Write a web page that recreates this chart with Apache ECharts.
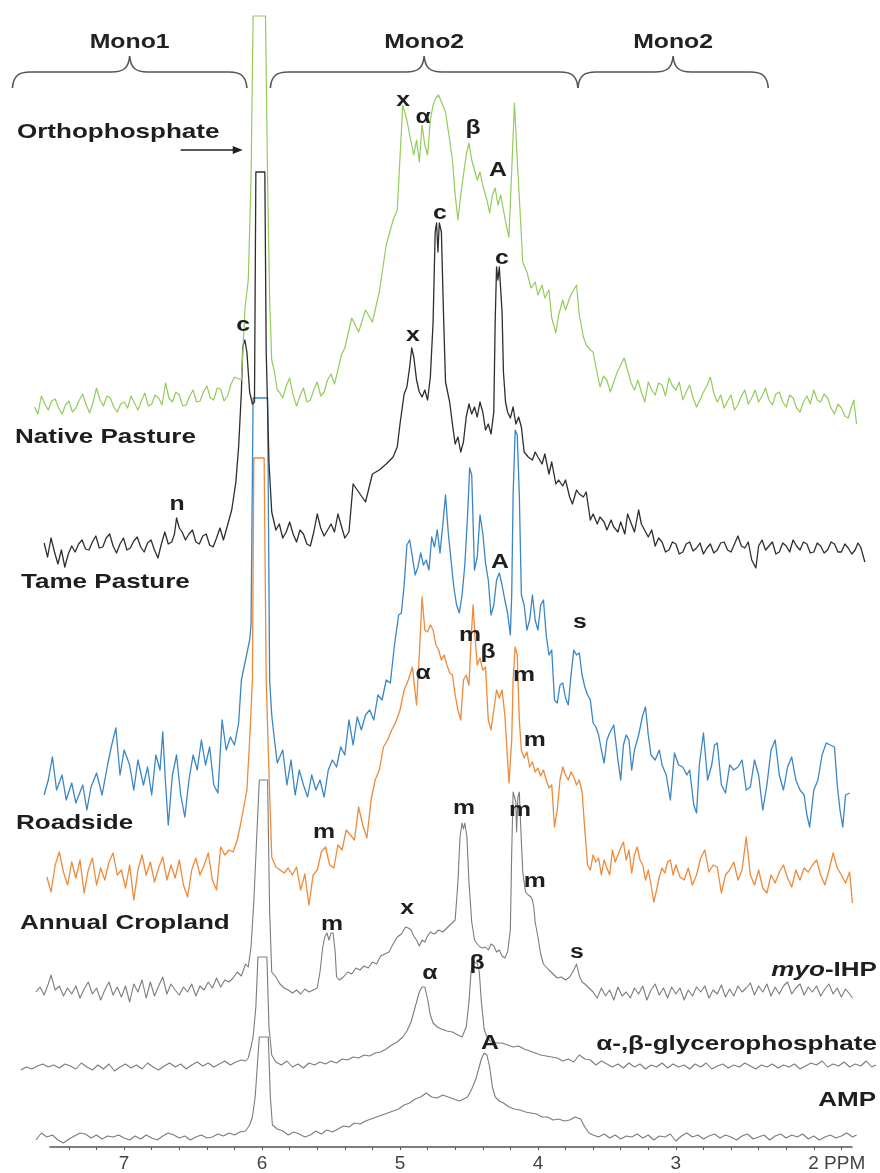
<!DOCTYPE html>
<html>
<head>
<meta charset="utf-8">
<title>31P NMR spectra</title>
<script src="https://cdn.jsdelivr.net/npm/echarts@6/dist/echarts.min.js"></script>
<style>
  html, body { margin: 0; padding: 0; background: #ffffff; }
  #chart { width: 880px; height: 1173px; }
</style>
</head>
<body>
<div id="chart"></div>
<script>
// Chemical shift (ppm) and intensity pairs for each spectrum; intensity is relative to its own baseline.
const nativePasture = [
  [7.650,3],[7.625,-4],[7.600,14],[7.575,6],[7.550,0],[7.525,9],[7.500,11],[7.475,2],[7.450,-4],[7.425,5],
  [7.400,9],[7.375,-2],[7.350,2],[7.325,10],[7.300,16],[7.275,5],[7.250,-3],[7.225,8],[7.200,22],[7.175,10],
  [7.150,4],[7.125,14],[7.100,12],[7.075,3],[7.050,-2],[7.025,6],[7.000,8],[6.975,2],[6.950,14],[6.925,7],
  [6.900,0],[6.875,9],[6.850,17],[6.825,4],[6.800,6],[6.775,15],[6.750,12],[6.725,5],[6.700,27],[6.675,12],
  [6.650,8],[6.625,18],[6.600,15],[6.575,4],[6.550,5],[6.525,14],[6.500,20],[6.475,8],[6.450,9],[6.425,18],
  [6.400,24],[6.375,12],[6.350,10],[6.325,22],[6.300,21],[6.275,9],[6.250,14],[6.225,26],[6.200,33],
  [6.15,30],[6.123,103],[6.10,130],[6.08,230],[6.065,394],[5.975,394],[5.96,230],[5.945,110],[5.93,50],[5.91,38],
  [5.89,20],[5.875,18],[5.850,12],[5.825,24],[5.800,32],[5.775,15],[5.750,4],[5.725,14],[5.700,22],[5.675,8],
  [5.650,10],[5.625,20],[5.600,28],[5.575,14],[5.550,18],[5.525,30],[5.500,36],[5.475,26],[5.450,40],[5.425,55],
  [5.40,62],[5.35,92],[5.30,78],[5.25,100],[5.20,88],[5.15,118],[5.10,165],[5.05,190],[5.02,200],[4.98,305],
  [4.95,290],[4.93,275],[4.90,255],[4.88,270],[4.86,248],[4.84,285],[4.82,265],[4.80,255],[4.78,290],[4.76,305],
  [4.74,312],[4.72,315],[4.70,308],[4.67,298],[4.64,270],[4.62,250],[4.60,215],[4.58,190],[4.56,215],[4.54,235],
  [4.52,255],[4.50,267],[4.48,250],[4.46,240],[4.44,230],[4.42,238],[4.40,225],[4.37,210],[4.35,197],[4.33,215],
  [4.31,222],[4.29,205],[4.27,215],[4.25,200],[4.23,185],[4.21,173],[4.19,240],[4.17,307],[4.15,250],[4.13,200],
  [4.11,148],[4.08,138],[4.05,122],[4.02,128],[4.00,115],[3.97,125],[3.95,112],[3.92,120],[3.90,92],[3.87,77],
  [3.85,95],[3.82,110],[3.80,100],[3.77,112],[3.75,118],[3.72,125],[3.70,95],[3.67,73],[3.65,65],[3.62,60],
  [3.600,58],[3.575,40],[3.550,23],[3.525,34],[3.500,30],[3.475,18],[3.450,28],[3.425,38],[3.400,45],[3.375,52],
  [3.350,40],[3.325,27],[3.300,20],[3.275,30],[3.250,18],[3.225,8],[3.200,28],[3.175,20],[3.150,15],[3.125,27],
  [3.100,25],[3.075,14],[3.050,32],[3.025,24],[3.000,20],[2.975,28],[2.950,10],[2.925,18],[2.900,25],[2.875,12],
  [2.850,3],[2.825,10],[2.800,18],[2.775,24],[2.750,33],[2.725,17],[2.700,8],[2.675,15],[2.650,2],[2.625,9],
  [2.600,15],[2.575,0],[2.550,5],[2.525,14],[2.500,20],[2.475,6],[2.450,12],[2.425,20],[2.400,8],[2.375,14],
  [2.350,22],[2.325,10],[2.300,5],[2.275,16],[2.250,18],[2.225,8],[2.200,3],[2.175,15],[2.150,12],[2.125,2],
  [2.100,-2],[2.075,8],[2.050,14],[2.025,6],[2.000,20],[1.975,10],[1.950,8],[1.925,16],[1.900,12],[1.875,2],
  [1.850,-4],[1.825,6],[1.800,2],[1.775,-6],[1.750,-8],[1.725,4],[1.710,10],[1.690,-14]
];

const tamePasture = [
  [7.580,9],[7.555,-5],[7.530,14],[7.505,0],[7.480,-12],[7.455,2],[7.430,-15],[7.405,-2],[7.380,6],[7.355,0],
  [7.330,8],[7.305,12],[7.280,3],[7.255,2],[7.230,10],[7.205,16],[7.180,4],[7.155,5],[7.130,14],[7.105,18],
  [7.080,6],[7.055,-1],[7.030,8],[7.005,14],[6.980,2],[6.955,4],[6.930,11],[6.905,15],[6.880,5],[6.855,0],
  [6.830,9],[6.805,12],[6.780,2],[6.755,-6],[6.730,8],[6.705,20],[6.680,8],[6.655,10],[6.635,18],[6.620,34],
  [6.600,24],[6.580,20],[6.555,12],[6.530,18],[6.505,22],[6.480,10],[6.455,8],[6.430,16],[6.405,18],[6.380,7],
  [6.355,5],[6.330,14],[6.305,24],[6.280,12],[6.260,22],
  [6.22,42],[6.19,70],[6.17,105],[6.15,160],[6.14,205],[6.125,212],[6.11,200],[6.09,160],[6.07,148],
  [6.055,150],[6.045,380],[5.98,380],[5.97,200],[5.95,90],[5.93,40],
  [5.900,22],[5.875,28],[5.850,14],[5.825,20],[5.800,30],[5.775,18],[5.750,10],[5.725,22],[5.700,18],[5.675,8],
  [5.650,6],[5.625,20],[5.600,38],[5.575,24],[5.550,16],[5.525,22],[5.500,28],[5.475,20],[5.450,38],[5.425,26],
  [5.400,14],[5.370,20],[5.34,68],[5.30,60],
  [5.25,50],[5.20,78],[5.15,82],[5.10,88],[5.05,95],[5.02,105],[5.00,128],[4.97,158],[4.95,165],[4.93,185],
  [4.915,204],[4.90,195],[4.88,172],[4.86,160],[4.84,155],[4.82,162],[4.80,152],[4.78,175],[4.76,230],[4.745,320],
  [4.735,329],[4.725,300],[4.715,329],[4.70,320],[4.685,240],[4.67,170],[4.64,150],[4.62,128],[4.60,108],[4.58,115],
  [4.56,100],[4.54,110],[4.52,135],[4.50,148],[4.48,138],[4.46,145],[4.44,135],[4.42,150],[4.40,140],[4.38,122],
  [4.36,128],[4.34,118],[4.32,140],[4.31,230],[4.30,285],[4.29,272],[4.28,285],[4.27,284],[4.26,240],[4.25,180],
  [4.235,150],[4.22,140],[4.20,134],[4.18,145],[4.16,128],[4.14,135],[4.12,125],[4.10,100],[4.07,95],[4.04,92],
  [4.02,100],[4.00,95],[3.97,88],[3.95,98],[3.92,78],[3.90,90],[3.87,68],[3.85,72],[3.82,66],[3.80,72],
  [3.77,55],[3.75,48],[3.72,62],[3.70,58],[3.67,55],[3.65,60],[3.62,32],[3.60,38],[3.57,28],[3.55,35],
  [3.52,30],[3.50,22],[3.47,32],[3.45,25],[3.42,20],[3.40,30],[3.37,18],[3.35,38],[3.30,20],[3.27,42],
  [3.25,28],
  [3.200,15],[3.175,22],[3.150,6],[3.125,14],[3.100,10],[3.075,0],[3.050,2],[3.025,10],[3.000,8],[2.975,-2],
  [2.950,0],[2.925,8],[2.900,10],[2.875,1],[2.850,4],[2.825,9],[2.800,-2],[2.775,4],[2.750,8],[2.725,-1],
  [2.700,2],[2.675,9],[2.650,10],[2.625,2],[2.600,0],[2.575,8],[2.550,16],[2.525,6],[2.500,4],[2.475,10],
  [2.450,-8],[2.420,-16],[2.400,6],[2.375,12],[2.350,2],[2.325,6],[2.300,10],[2.275,-2],[2.250,0],[2.225,9],
  [2.200,6],[2.175,0],[2.150,12],[2.125,6],[2.100,2],[2.075,10],[2.050,8],[2.025,-1],[2.000,0],[1.975,9],
  [1.950,6],[1.925,-1],[1.900,2],[1.875,10],[1.850,8],[1.825,0],[1.800,0],[1.775,8],[1.750,4],[1.725,-2],
  [1.700,2],[1.680,9],[1.660,5],[1.630,-10]
];

const roadside = [
  [7.58,0],[7.55,15],[7.52,38],[7.49,5],[7.45,20],[7.42,-5],[7.38,12],[7.35,-8],[7.30,10],[7.27,-15],
  [7.24,8],[7.20,22],[7.16,0],[7.12,30],[7.09,50],[7.06,67],[7.03,20],[7.00,45],[6.96,30],[6.93,5],
  [6.90,35],[6.86,10],[6.83,28],[6.80,0],[6.77,40],[6.74,25],[6.72,63],[6.70,12],[6.68,-30],[6.65,20],
  [6.62,40],[6.59,0],[6.56,-22],[6.53,15],[6.50,40],[6.47,25],[6.44,55],[6.41,30],[6.38,48],[6.35,10],
  [6.32,2],[6.29,75],[6.26,45],[6.23,58],[6.20,50],[6.17,72],[6.15,115],[6.12,135],[6.09,155],[6.08,170],
  [6.065,397],[5.96,397],[5.945,115],[5.93,80],[5.91,55],[5.89,32],[5.85,45],[5.82,10],[5.79,35],[5.76,0],
  [5.73,25],[5.70,10],[5.67,-2],[5.64,20],[5.61,5],[5.58,15],[5.55,-2],[5.52,25],[5.49,35],[5.46,28],
  [5.43,48],[5.40,40],[5.37,75],[5.34,50],[5.31,78],[5.28,65],[5.25,80],[5.22,85],[5.19,75],[5.16,100],
  [5.13,95],[5.10,115],[5.07,112],[5.04,150],[5.01,180],[4.99,182],[4.97,210],[4.95,250],[4.93,255],[4.91,238],
  [4.89,220],[4.87,228],[4.85,242],[4.83,230],[4.81,235],[4.79,225],[4.77,258],[4.75,248],[4.73,265],[4.71,242],
  [4.69,270],[4.67,300],[4.65,262],[4.63,235],[4.61,208],[4.59,190],[4.57,182],[4.55,200],[4.53,230],[4.51,280],
  [4.495,327],[4.48,320],[4.46,225],[4.44,238],[4.42,280],[4.40,262],[4.38,232],[4.36,215],[4.34,180],[4.32,190],
  [4.30,215],[4.28,222],[4.26,210],[4.24,195],[4.22,182],[4.20,160],[4.19,200],[4.18,300],[4.165,365],[4.15,360],
  [4.135,300],[4.12,200],[4.10,190],[4.08,165],[4.06,175],[4.04,200],[4.02,175],[4.00,165],[3.98,190],[3.96,195],
  [3.94,160],[3.92,140],[3.90,145],[3.88,95],[3.86,92],[3.84,110],[3.82,112],[3.80,97],[3.78,90],[3.76,120],
  [3.74,145],[3.72,140],[3.70,142],[3.68,120],[3.66,108],[3.64,100],[3.62,95],[3.60,72],[3.58,68],[3.56,60],
  [3.54,45],[3.52,32],[3.50,55],[3.48,62],[3.45,70],[3.42,35],[3.40,15],[3.38,50],[3.36,60],[3.34,55],
  [3.32,25],[3.30,45],[3.27,60],[3.24,80],[3.22,88],[3.20,60],[3.18,40],[3.15,35],[3.12,45],[3.10,30],
  [3.07,20],[3.04,-5],[3.01,42],[2.98,30],[2.95,28],[2.92,20],[2.90,25],[2.87,-10],[2.85,-18],[2.83,30],
  [2.80,62],[2.77,15],[2.74,30],[2.72,50],[2.70,52],[2.67,10],[2.64,2],[2.61,30],[2.58,25],[2.55,28],
  [2.52,35],[2.49,5],[2.46,8],[2.43,35],[2.40,20],[2.37,-15],[2.34,10],[2.31,45],[2.28,55],[2.25,20],
  [2.22,5],[2.19,28],[2.16,38],[2.13,15],[2.10,5],[2.07,0],[2.05,-20],[2.03,-32],[2.00,5],[1.97,15],
  [1.94,40],[1.91,52],[1.88,50],[1.85,48],[1.83,10],[1.81,-15],[1.79,-32],[1.77,0],[1.74,2]
];

const annualCropland = [
  [7.56,3],[7.53,-12],[7.50,15],[7.47,28],[7.44,8],[7.41,-5],[7.38,18],[7.35,2],[7.32,20],[7.29,-13],
  [7.26,10],[7.23,22],[7.20,-5],[7.17,12],[7.14,0],[7.11,18],[7.08,27],[7.05,5],[7.02,10],[6.99,-8],
  [6.96,15],[6.93,-20],[6.90,10],[6.87,25],[6.84,5],[6.81,18],[6.78,-2],[6.75,12],[6.72,23],[6.69,0],
  [6.66,15],[6.63,2],[6.60,20],[6.57,-5],[6.54,-17],[6.51,10],[6.48,22],[6.45,5],[6.42,15],[6.39,27],
  [6.36,0],[6.33,-10],[6.30,33],[6.27,25],[6.24,30],[6.21,28],[6.18,40],[6.16,53],[6.13,75],[6.11,90],
  [6.09,140],[6.07,200],[6.06,422],[5.985,422],[5.97,200],[5.955,130],[5.93,23],[5.90,13],[5.87,10],[5.84,7],
  [5.81,12],[5.78,5],[5.75,13],[5.72,-10],[5.69,6],[5.66,-25],[5.63,5],[5.60,10],[5.57,28],[5.54,33],
  [5.51,15],[5.48,12],[5.45,35],[5.42,30],[5.39,50],[5.36,45],[5.33,40],[5.30,73],[5.27,55],[5.24,42],
  [5.21,80],[5.18,100],[5.15,110],[5.12,133],[5.09,140],[5.06,150],[5.03,158],[5.00,170],[4.97,190],[4.94,200],
  [4.91,213],[4.88,175],[4.86,225],[4.84,283],[4.82,250],[4.80,248],[4.78,255],[4.76,250],[4.74,235],[4.72,230],
  [4.70,220],[4.68,225],[4.66,215],[4.64,207],[4.62,205],[4.60,185],[4.58,170],[4.56,160],[4.54,200],[4.52,205],
  [4.50,195],[4.485,240],[4.47,275],[4.455,240],[4.44,215],[4.42,222],[4.40,210],[4.38,213],[4.36,160],[4.34,150],
  [4.32,170],[4.30,190],[4.28,182],[4.26,190],[4.24,165],[4.22,120],[4.21,97],[4.19,140],[4.18,200],[4.165,233],
  [4.15,225],[4.135,160],[4.12,130],[4.10,122],[4.08,128],[4.06,113],[4.04,118],[4.02,108],[4.00,112],[3.98,104],
  [3.96,110],[3.94,100],[3.92,92],[3.90,95],[3.88,53],[3.86,70],[3.84,100],[3.82,113],[3.80,105],[3.78,100],
  [3.76,108],[3.74,103],[3.72,95],[3.70,100],[3.68,88],[3.66,50],[3.64,15],[3.62,10],[3.60,25],[3.58,18],
  [3.56,22],[3.54,5],[3.52,20],[3.50,12],[3.48,5],[3.46,30],[3.44,18],[3.42,25],[3.40,32],[3.38,38],
  [3.36,20],[3.34,30],[3.32,7],[3.30,25],[3.28,33],[3.26,20],[3.24,15],[3.22,0],[3.20,10],[3.18,-5],
  [3.16,-22],[3.14,-10],[3.12,3],[3.10,12],[3.08,7],[3.06,18],[3.04,20],[3.02,5],[3.00,15],[2.97,3],
  [2.94,0],[2.91,12],[2.88,-5],[2.85,5],[2.82,22],[2.79,30],[2.76,8],[2.73,15],[2.70,13],[2.67,-13],
  [2.64,5],[2.61,10],[2.58,18],[2.55,0],[2.52,10],[2.49,43],[2.46,5],[2.43,-5],[2.40,10],[2.37,-8],
  [2.34,-13],[2.31,5],[2.28,-3],[2.25,8],[2.22,15],[2.19,2],[2.16,-7],[2.13,10],[2.10,0],[2.07,12],
  [2.04,8],[2.01,15],[1.98,20],[1.95,5],[1.92,-5],[1.89,10],[1.86,27],[1.83,12],[1.80,5],[1.77,-3],
  [1.74,8],[1.72,-23]
];

const myoIHP = [
  [7.64,0],[7.61,5],[7.58,-3],[7.55,8],[7.53,17],[7.50,2],[7.47,6],[7.44,-4],[7.41,4],[7.38,-2],
  [7.35,6],[7.32,-6],[7.29,3],[7.26,10],[7.23,-2],[7.20,4],[7.17,-8],[7.14,2],[7.11,10],[7.08,-3],
  [7.05,5],[7.02,-5],[6.99,6],[6.96,-10],[6.93,8],[6.90,0],[6.87,12],[6.84,-6],[6.81,10],[6.78,-4],
  [6.75,6],[6.72,15],[6.69,-2],[6.66,8],[6.63,2],[6.60,-3],[6.57,5],[6.54,0],[6.51,8],[6.48,-4],
  [6.45,6],[6.42,2],[6.39,10],[6.36,4],[6.33,14],[6.30,5],[6.27,12],[6.24,10],[6.21,14],[6.18,20],
  [6.15,16],[6.12,28],[6.10,25],[6.08,45],[6.06,90],[6.02,212],[5.96,212],[5.945,80],[5.93,20],[5.90,15],
  [5.87,8],[5.84,4],[5.81,2],[5.78,-1],[5.75,2],[5.72,-2],[5.69,3],[5.66,0],[5.63,2],[5.60,4],
  [5.58,20],[5.56,45],[5.545,55],[5.53,59],[5.515,52],[5.50,59],[5.485,59],[5.47,40],[5.46,15],[5.44,12],
  [5.41,15],[5.38,20],[5.35,18],[5.32,24],[5.29,22],[5.26,26],[5.23,24],[5.20,30],[5.17,28],[5.14,36],
  [5.11,38],[5.08,40],[5.05,48],[5.02,55],[4.99,58],[4.96,65],[4.94,64],[4.92,62],[4.90,56],[4.88,52],
  [4.86,46],[4.84,52],[4.82,50],[4.80,56],[4.78,60],[4.75,58],[4.72,62],[4.69,60],[4.66,64],[4.63,68],
  [4.60,72],[4.58,110],[4.565,155],[4.55,169],[4.54,163],[4.53,169],[4.515,155],[4.50,110],[4.48,70],[4.46,52],
  [4.44,48],[4.42,45],[4.40,44],[4.38,45],[4.36,42],[4.34,48],[4.32,46],[4.30,40],[4.28,42],[4.26,36],
  [4.24,34],[4.22,40],[4.20,62],[4.19,140],[4.18,200],[4.17,202],[4.16,190],[4.155,160],[4.145,195],[4.135,200],
  [4.12,150],[4.11,120],[4.09,100],[4.07,97],[4.05,95],[4.04,92],[4.03,85],[4.02,70],[4.00,55],[3.98,38],
  [3.96,28],[3.94,25],[3.92,22],[3.89,18],[3.86,14],[3.83,15],[3.80,12],[3.77,15],[3.74,22],[3.72,28],
  [3.70,16],[3.68,10],[3.66,8],[3.63,4],[3.60,0],[3.57,-6],[3.54,4],[3.51,-4],[3.48,2],[3.45,-8],
  [3.42,5],[3.39,-4],[3.36,0],[3.33,-6],[3.30,4],[3.27,-2],[3.24,6],[3.21,-8],[3.18,2],[3.15,8],
  [3.12,-3],[3.09,4],[3.06,-6],[3.03,5],[3.00,-2],[2.97,4],[2.94,-8],[2.91,2],[2.88,-4],[2.85,5],
  [2.82,0],[2.79,6],[2.76,-6],[2.73,2],[2.70,-2],[2.67,7],[2.64,-5],[2.61,3],[2.58,-4],[2.55,6],
  [2.52,0],[2.49,4],[2.46,9],[2.43,-3],[2.40,6],[2.37,0],[2.34,8],[2.31,-4],[2.28,5],[2.25,-2],
  [2.22,6],[2.19,10],[2.16,-2],[2.13,4],[2.10,8],[2.07,-3],[2.04,5],[2.01,0],[1.98,6],[1.95,-4],
  [1.92,3],[1.89,8],[1.86,-2],[1.83,4],[1.80,-5],[1.77,3],[1.74,-2],[1.72,-6]
];

const glycerophosphate = [
  [7.75,-3],[7.71,0],[7.67,-2],[7.63,1],[7.59,3],[7.55,0],[7.51,2],[7.47,-1],[7.43,3],[7.39,1],
  [7.35,-2],[7.31,4],[7.27,0],[7.23,-3],[7.19,2],[7.15,-2],[7.11,3],[7.07,-4],[7.03,0],[6.99,3],
  [6.95,-1],[6.91,2],[6.87,-2],[6.83,4],[6.79,0],[6.75,-3],[6.71,1],[6.67,4],[6.63,0],[6.59,3],
  [6.55,-2],[6.51,2],[6.47,5],[6.43,1],[6.39,4],[6.35,0],[6.31,3],[6.27,6],[6.23,2],[6.19,5],
  [6.15,7],[6.12,6],[6.10,9],[6.08,20],[6.065,30],[6.045,60],[6.03,110],[5.965,110],[5.95,40],[5.93,12],
  [5.90,5],[5.86,2],[5.82,6],[5.78,0],[5.74,3],[5.70,-1],[5.66,4],[5.62,2],[5.58,5],[5.54,3],
  [5.50,6],[5.46,4],[5.42,8],[5.38,7],[5.34,10],[5.30,9],[5.26,12],[5.22,11],[5.18,14],[5.14,15],
  [5.10,18],[5.06,22],[5.02,25],[4.98,30],[4.95,36],[4.92,45],[4.90,55],[4.88,65],[4.86,75],[4.84,80],
  [4.82,80],[4.80,68],[4.78,52],[4.76,44],[4.73,40],[4.70,38],[4.66,36],[4.62,35],[4.58,32],[4.55,30],
  [4.52,40],[4.50,65],[4.485,95],[4.47,107],[4.455,104],[4.44,104],[4.425,95],[4.41,65],[4.39,38],[4.37,30],
  [4.34,25],[4.30,24],[4.26,24],[4.22,22],[4.18,20],[4.14,21],[4.10,18],[4.06,16],[4.02,14],[3.98,12],
  [3.94,11],[3.90,10],[3.86,9],[3.82,6],[3.78,8],[3.74,5],[3.70,12],[3.66,8],[3.62,7],[3.58,2],
  [3.54,6],[3.50,3],[3.46,0],[3.42,3],[3.38,-1],[3.34,4],[3.30,0],[3.26,3],[3.22,-2],[3.18,2],
  [3.14,0],[3.10,4],[3.06,-1],[3.02,3],[2.98,0],[2.94,2],[2.90,-2],[2.86,3],[2.82,0],[2.78,4],
  [2.74,-2],[2.70,1],[2.66,3],[2.62,-1],[2.58,2],[2.54,0],[2.50,4],[2.46,1],[2.42,-2],[2.38,2],
  [2.34,0],[2.30,3],[2.26,-1],[2.22,2],[2.18,0],[2.14,3],[2.10,-2],[2.06,1],[2.02,4],[1.98,2],
  [1.94,6],[1.90,0],[1.86,3],[1.82,1],[1.78,5],[1.74,0],[1.70,3],[1.66,1],[1.62,6],[1.58,0],
  [1.55,2]
];

const amp = [
  [7.64,-3],[7.60,4],[7.56,0],[7.52,2],[7.48,-3],[7.44,-6],[7.40,-2],[7.36,1],[7.32,4],[7.28,3],
  [7.24,-1],[7.20,2],[7.16,-2],[7.12,1],[7.08,0],[7.04,2],[7.00,-1],[6.96,-3],[6.92,1],[6.88,-2],
  [6.84,2],[6.80,-1],[6.76,-3],[6.72,1],[6.68,4],[6.64,2],[6.60,-1],[6.56,1],[6.52,-3],[6.48,0],
  [6.44,2],[6.40,-1],[6.36,0],[6.32,3],[6.28,1],[6.24,4],[6.20,2],[6.16,5],[6.12,6],[6.09,12],
  [6.07,20],[6.05,40],[6.02,100],[5.955,100],[5.94,40],[5.925,12],[5.89,8],[5.85,6],[5.81,2],[5.77,5],
  [5.73,3],[5.69,0],[5.65,2],[5.61,6],[5.57,3],[5.53,7],[5.49,5],[5.45,8],[5.41,11],[5.37,10],
  [5.33,14],[5.29,13],[5.25,16],[5.21,18],[5.17,20],[5.13,22],[5.09,24],[5.05,26],[5.01,28],[4.97,32],
  [4.93,34],[4.89,38],[4.85,40],[4.81,44],[4.77,40],[4.73,39],[4.69,42],[4.65,40],[4.61,38],[4.57,36],
  [4.54,38],[4.51,40],[4.48,48],[4.45,58],[4.43,68],[4.41,78],[4.39,84],[4.37,82],[4.35,70],[4.33,50],
  [4.31,40],[4.28,36],[4.25,34],[4.21,30],[4.17,28],[4.13,27],[4.09,25],[4.05,24],[4.01,23],[3.97,20],
  [3.93,20],[3.89,17],[3.85,18],[3.81,16],[3.77,17],[3.73,20],[3.69,18],[3.66,10],[3.63,4],[3.60,2],
  [3.56,0],[3.52,3],[3.48,-1],[3.44,2],[3.40,-2],[3.36,1],[3.32,0],[3.28,3],[3.24,-1],[3.20,2],
  [3.16,-3],[3.12,1],[3.08,0],[3.04,3],[3.00,-4],[2.96,1],[2.92,4],[2.88,0],[2.84,2],[2.80,-2],
  [2.76,1],[2.72,3],[2.68,-1],[2.64,2],[2.60,0],[2.56,-3],[2.52,1],[2.48,3],[2.44,-2],[2.40,0],
  [2.36,2],[2.32,-3],[2.28,1],[2.24,3],[2.20,-1],[2.16,2],[2.12,0],[2.08,3],[2.04,-2],[2.00,1],
  [1.96,-3],[1.92,0],[1.88,2],[1.84,-1],[1.80,1],[1.76,4],[1.72,0],[1.69,2]
];

// Vertical offset of each trace in the stack, and its colour / weight.
const spectrumNames  = ['Native Pasture', 'Tame Pasture', 'Roadside', 'Annual Cropland', 'myo-IHP', 'α-,β-glycerophosphate', 'AMP'];
const spectrumData   = [nativePasture, tamePasture, roadside, annualCropland, myoIHP, glycerophosphate, amp];
const stackOffsets   = [763, 621, 378, 293, 181, 106, 36];
const spectrumColors = ['#93cb5c', '#2e2e2e', '#3a86c6', '#ee8a3a', '#7c7c7c', '#7c7c7c', '#7c7c7c'];
const spectrumWidths = [1.2, 1.3, 1.3, 1.3, 1.1, 1.1, 1.1];

// Axis tick labels (ppm) and minor tick positions.
const tickLabels = [7, 6, 5, 4, 3, 2];
const minorTicks = [7.4, 7.2, 7.0, 6.8, 6.6, 6.4, 6.2, 6.0, 5.8, 5.6, 5.4, 5.2, 5.0, 4.8, 4.6, 4.4, 4.2, 4.0,
                    3.8, 3.6, 3.4, 3.2, 3.0, 2.8, 2.6, 2.4, 2.2, 2.0, 1.8];

// Region braces: [from ppm, to ppm, title]
const regionBraces = [[7.81, 6.11, 'Mono1'], [5.94, 3.71, 'Mono2'], [3.71, 2.33, 'Mono2']];

// Peak assignments: [label, ppm, stacked intensity]
const peakLabels = [
  ['x', 4.978, 1073], ['α', 4.833, 1056], ['β', 4.471, 1045], ['A', 4.290, 1003],
  ['c', 6.138, 848], ['c', 4.710, 960], ['c', 4.261, 915], ['x', 4.906, 838], ['n', 6.616, 669],
  ['A', 4.275, 611], ['s', 3.696, 551],
  ['m', 4.493, 538], ['β', 4.362, 521], ['α', 4.833, 500], ['m', 4.101, 498], ['m', 4.022, 433], ['m', 5.551, 341],
  ['m', 4.536, 365], ['m', 4.130, 363], ['m', 4.022, 292], ['m', 5.493, 249], ['x', 4.949, 265], ['s', 3.717, 221],
  ['α', 4.783, 200], ['β', 4.442, 210],
  ['A', 4.348, 130]
];

// Spectrum titles: [text, ppm, intensity, alignment]
const titleLabels = [
  ['Orthophosphate', 7.777, 1041, 'left'],
  ['Native Pasture', 7.791, 736, 'left'],
  ['Tame Pasture', 7.748, 591, 'left'],
  ['Roadside', 7.784, 350, 'left'],
  ['Annual Cropland', 7.755, 250, 'left'],
  ['{i|myo}-IHP', 1.542, 203, 'right'],
  ['α-,β-glycerophosphate', 1.542, 129, 'right'],
  ['AMP', 1.549, 73, 'right']
];

// Arrow pointing at the orthophosphate resonance: [from ppm, to ppm, intensity]
const orthoArrow = [6.59, 6.14, 1023];

const FONT = '"Liberation Sans", Arial, Helvetica, sans-serif';
const STRETCH = 1.24;

const chart = echarts.init(document.getElementById('chart'), null, { renderer: 'canvas' });

const spectrumSeries = spectrumData.map((pts, i) => ({
  name: spectrumNames[i],
  type: 'line',
  xAxisIndex: 0,
  yAxisIndex: 0,
  symbol: 'none',
  smooth: false,
  animation: false,
  silent: true,
  z: 10 - i,
  lineStyle: { color: spectrumColors[i], width: spectrumWidths[i], join: 'round' },
  data: pts.map(p => [p[0], stackOffsets[i] + p[1]])
}));

// Curly braces over the chemical shift regions
const braceSeries = {
  type: 'custom',
  xAxisIndex: 0,
  yAxisIndex: 0,
  silent: true,
  animation: false,
  data: regionBraces.map(b => [b[0], b[1]]),
  renderItem: function (params, api) {
    const a = api.coord([api.value(0), 1085]);
    const b = api.coord([api.value(1), 1085]);
    const flat = api.coord([api.value(0), 1101])[1];
    const tip = api.coord([api.value(0), 1117])[1];
    const xc = (a[0] + b[0]) / 2;
    const r = 18;
    const d = [
      'M', a[0], a[1],
      'C', a[0] + 1, flat + 4, a[0] + 6, flat, a[0] + r, flat,
      'L', xc - r, flat,
      'C', xc - 6, flat, xc - 1, flat - 4, xc, tip,
      'C', xc + 1, flat - 4, xc + 6, flat, xc + r, flat,
      'L', b[0] - r, flat,
      'C', b[0] - 6, flat, b[0] - 1, flat + 4, b[0], b[1]
    ].join(' ');
    return {
      type: 'path',
      shape: { pathData: d },
      style: { fill: null, stroke: '#555555', lineWidth: 1.6 }
    };
  }
};

chart.setOption({
  animation: false,
  backgroundColor: '#ffffff',
  grid: [
    { left: 0, right: 0, top: 0, bottom: 0, outerBoundsMode: 'none' },
    { left: 50, right: 28, bottom: 26, height: 1, outerBoundsMode: 'none' }
  ],
  xAxis: [
    { type: 'value', gridIndex: 0, min: 1.52, max: 7.9, inverse: true, show: false },
    {
      type: 'value', gridIndex: 1, min: 1.7229, max: 7.5375, inverse: true, position: 'bottom',
      splitLine: { show: false },
      axisLine: { show: true, onZero: false, lineStyle: { color: '#555555', width: 1.6 } },
      axisTick: { show: true, customValues: minorTicks, length: 3, lineStyle: { color: '#555555', width: 1 } },
      axisLabel: {
        show: true,
        customValues: tickLabels,
        margin: 7,
        color: '#444444',
        fontFamily: FONT,
        fontSize: 19,
        formatter: v => (v === 2 ? '{u|2 PPM}' : String(v)),
        rich: { u: { fontFamily: FONT, fontSize: 19, color: '#444444', padding: [0, 0, 0, 46] } }
      }
    }
  ],
  yAxis: [
    { type: 'value', gridIndex: 0, min: 0, max: 1173, show: false },
    { type: 'value', gridIndex: 1, show: false }
  ],
  series: spectrumSeries.concat([braceSeries])
});

// Text annotations placed in data coordinates
function toPx(ppm, v) { return chart.convertToPixel({ gridIndex: 0 }, [ppm, v]); }

const graphics = [];

regionBraces.forEach(b => {
  const p = toPx((b[0] + b[1]) / 2, 1131);
  graphics.push({
    type: 'text', x: p[0], y: p[1], scaleX: STRETCH, z: 100,
    style: { text: b[2], fontFamily: FONT, fontSize: 20, fontWeight: 'bold', fill: '#222222', align: 'center', verticalAlign: 'middle' }
  });
});

peakLabels.forEach(l => {
  const p = toPx(l[1], l[2]);
  graphics.push({
    type: 'text', x: p[0], y: p[1], scaleX: STRETCH, z: 100,
    style: { text: l[0], fontFamily: FONT, fontSize: 20, fontWeight: 'bold', fill: '#1e1e1e', align: 'center', verticalAlign: 'middle' }
  });
});

titleLabels.forEach(t => {
  const p = toPx(t[1], t[2]);
  graphics.push({
    type: 'text', x: p[0], y: p[1], scaleX: STRETCH, z: 100,
    style: {
      text: t[0], fontFamily: FONT, fontSize: 21, fontWeight: 'bold', fill: '#1e1e1e',
      align: t[3], verticalAlign: 'middle',
      rich: { i: { fontFamily: FONT, fontSize: 21, fontWeight: 'bold', fontStyle: 'italic', fill: '#1e1e1e' } }
    }
  });
});

const a0 = toPx(orthoArrow[0], orthoArrow[2]);
const a1 = toPx(orthoArrow[1], orthoArrow[2]);
graphics.push({
  type: 'line', z: 100,
  shape: { x1: a0[0], y1: a0[1], x2: a1[0] - 7, y2: a1[1] },
  style: { stroke: '#222222', lineWidth: 1.6 }
});
graphics.push({
  type: 'polygon', z: 100,
  shape: { points: [[a1[0], a1[1]], [a1[0] - 10, a1[1] - 4], [a1[0] - 10, a1[1] + 4]] },
  style: { fill: '#222222' }
});

chart.setOption({ graphic: graphics });
</script>
</body>
</html>
